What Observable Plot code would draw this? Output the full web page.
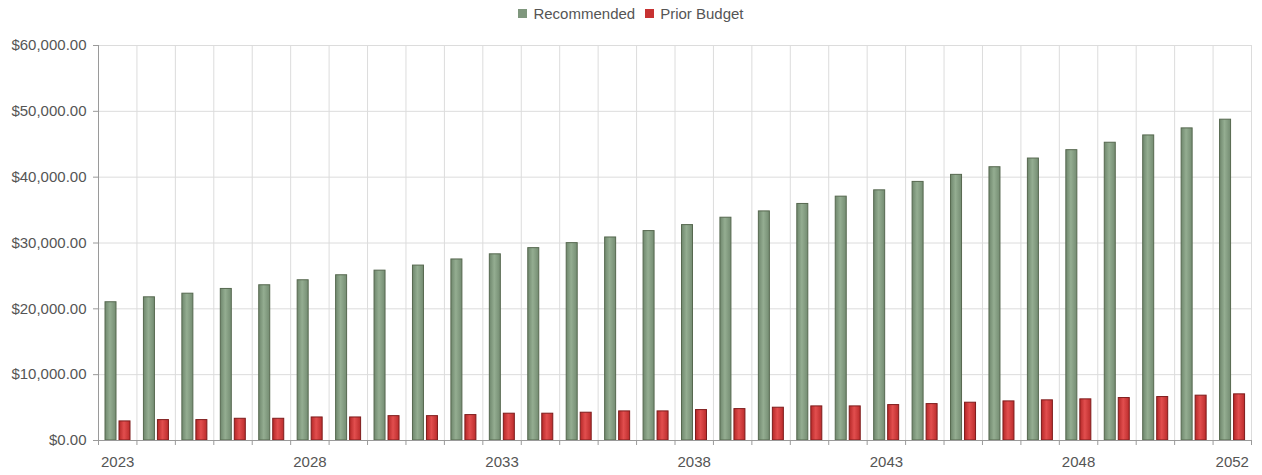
<!DOCTYPE html>
<html>
<head>
<meta charset="utf-8">
<script src="https://cdn.jsdelivr.net/npm/d3@7"></script>
<script src="https://cdn.jsdelivr.net/npm/@observablehq/plot@0.6"></script>
<style>
  html, body { margin: 0; padding: 0; background: #fff; }
  body { width: 1262px; height: 475px; overflow: hidden; font-family: "Liberation Sans", Arial, sans-serif; }
  #legend { height: 30px; display: flex; justify-content: center; align-items: center; font-size: 15px; color: #555; box-sizing: border-box; padding-bottom: 3px; }
  #legend .item { display: flex; align-items: center; margin: 0 5px; }
  #legend .sw { width: 9px; height: 9px; margin-right: 6px; display: inline-block; }
</style>
</head>
<body>
<div id="legend"></div>
<div id="chart"></div>
<script>
const years = [2023, 2024, 2025, 2026, 2027, 2028, 2029, 2030, 2031, 2032,
               2033, 2034, 2035, 2036, 2037, 2038, 2039, 2040, 2041, 2042,
               2043, 2044, 2045, 2046, 2047, 2048, 2049, 2050, 2051, 2052];
const recommended = [21000, 21750, 22300, 23020, 23580, 24340, 25100, 25800, 26570, 27500,
                     28280, 29220, 29980, 30840, 31810, 32720, 33840, 34800, 35930, 37040,
                     38000, 39280, 40350, 41510, 42830, 44100, 45230, 46340, 47410, 48730];
const priorBudget = [2900, 3100, 3100, 3300, 3300, 3500, 3500, 3700, 3700, 3860,
                     4070, 4070, 4220, 4420, 4420, 4620, 4770, 4980, 5180, 5180,
                     5380, 5530, 5740, 5940, 6100, 6250, 6450, 6600, 6810, 7010];
const seriesNames = ["Recommended", "Prior Budget"];
const seriesColors = ["#7f977d", "#c73232"];
const yTicks = [0, 10000, 20000, 30000, 40000, 50000, 60000];
const xLabelYears = [2023, 2028, 2033, 2038, 2043, 2048, 2052];

const rows = years.map((year, i) => ({year, rec: recommended[i], prior: priorBudget[i]}));

// legend
const legend = document.getElementById("legend");
seriesNames.forEach((name, i) => {
  const item = document.createElement("span");
  item.className = "item";
  const sw = document.createElement("span");
  sw.className = "sw";
  sw.style.background = seriesColors[i];
  item.appendChild(sw);
  item.appendChild(document.createTextNode(name));
  legend.appendChild(item);
});

const W = 1262, H = 445, ML = 98, MR = 11, MT = 15, MB = 35;
const step = (W - ML - MR) / years.length;
const last = years[years.length - 1];

function defs() {
  const ns = "http://www.w3.org/2000/svg";
  const d = document.createElementNS(ns, "defs");
  const mk = (id, stops) => {
    const g = document.createElementNS(ns, "linearGradient");
    g.setAttribute("id", id);
    g.setAttribute("x1", "0"); g.setAttribute("x2", "1");
    g.setAttribute("y1", "0"); g.setAttribute("y2", "0");
    stops.forEach(([o, c]) => {
      const s = document.createElementNS(ns, "stop");
      s.setAttribute("offset", o); s.setAttribute("stop-color", c);
      g.appendChild(s);
    });
    d.appendChild(g);
  };
  mk("gGreen", [["0", "#6f876d"], ["0.45", "#94ad91"], ["1", "#748c72"]]);
  mk("gRed", [["0", "#b52828"], ["0.45", "#e24e4e"], ["1", "#bb2c2c"]]);
  return d;
}

const chart = Plot.plot({
  width: W, height: H,
  marginLeft: ML, marginRight: MR, marginTop: MT, marginBottom: MB,
  style: {fontFamily: "'Liberation Sans', Arial, sans-serif", fontSize: "15px", color: "#555", background: "#fff", overflow: "visible"},
  x: {type: "band", domain: years, padding: 0, round: false, axis: null},
  y: {domain: [0, 60000], axis: null},
  marks: [
    defs,
    Plot.gridY(yTicks, {stroke: "#dcdcdc", strokeOpacity: 1}),
    Plot.gridX(years, {dx: -step / 2, stroke: "#dcdcdc", strokeOpacity: 1}),
    Plot.gridX([last], {dx: step / 2, stroke: "#dcdcdc", strokeOpacity: 1}),
    Plot.barY(rows, {x: "year", y: "rec", fill: "url(#gGreen)", stroke: "#56684f", strokeWidth: 1, insetLeft: 7, insetRight: step - 18}),
    Plot.barY(rows, {x: "year", y: "prior", fill: "url(#gRed)", stroke: "#7e1c1c", strokeWidth: 1, insetLeft: 21, insetRight: step - 32}),
    Plot.gridX([years[0]], {dx: -step / 2, stroke: "#9a9a9a", strokeOpacity: 1}),
    Plot.ruleY([0], {stroke: "#9a9a9a"}),
    Plot.axisY(yTicks, {tickFormat: d3.format("$,.2f"), tickSize: 5, tickPadding: 7, stroke: "#9a9a9a", fill: "#555", fontSize: 15, label: null}),
    Plot.axisX(years, {tickSize: 5, dx: -step / 2, tickFormat: () => "", stroke: "#9a9a9a", label: null}),
    Plot.axisX([last], {tickSize: 5, dx: step / 2, tickFormat: () => "", stroke: "#9a9a9a", label: null}),
    Plot.axisX(xLabelYears, {tickSize: 0, tickPadding: 16, tickFormat: d => String(d), fill: "#555", fontSize: 15, label: null})
  ]
});
document.getElementById("chart").appendChild(chart);
</script>
</body>
</html>
